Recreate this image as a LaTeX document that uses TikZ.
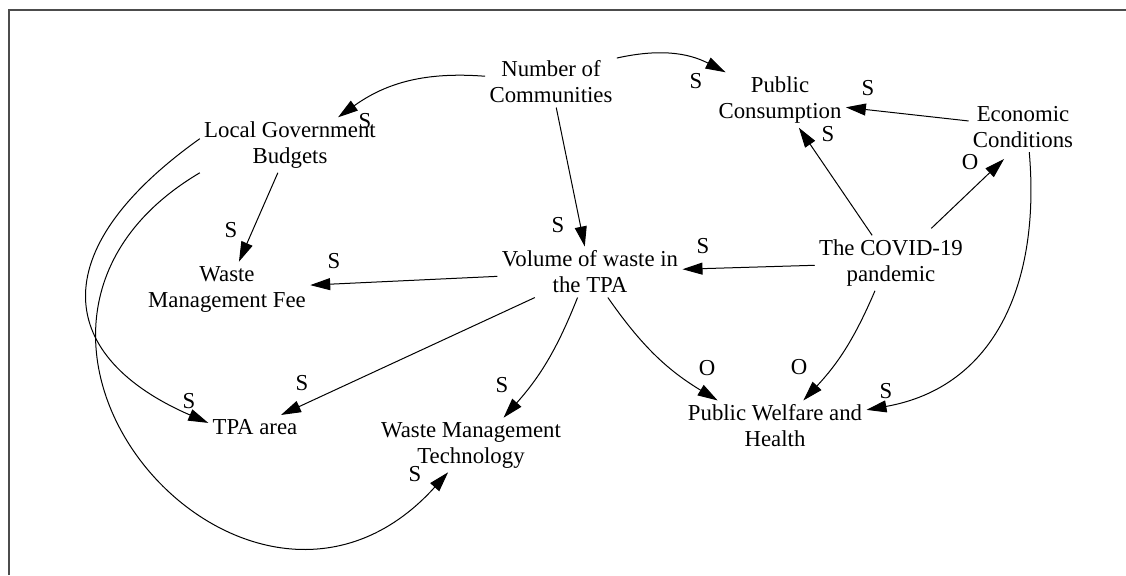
\documentclass[tikz,border=0pt]{standalone}
\usepackage{fontspec}
\setmainfont{Liberation Serif}
\usetikzlibrary{arrows.meta}

\begin{document}
\begin{tikzpicture}[x=0.5pt, y=0.5pt, font=\fontsize{11.4}{13}\selectfont,
    var/.style={align=center, inner sep=2pt},
    link/.style={-{Triangle[length=10pt, width=6pt]}, line width=0.5pt},
    pol/.style={inner sep=0pt}]
    \useasboundingbox (0,0) rectangle (1126,-575);
    % Frame
    \draw[line width=1pt, black!70] (8.5,-575) -- (8.5,-9.5) -- (1126,-9.5);

    % Variables
    \node[var] (ncom) at (551,-82) {Number of\\Communities};
    \node[var] (pcon) at (780,-100) {Public\\Consumption};
    \node[var] (econ) at (1023,-127) {Economic\\Conditions};
    \node[var] (lgb) at (290,-145) {Local Government\\Budgets};
    \node[var] (wmf) at (227,-289) {Waste\\Management Fee};
    \node[var] (vol) at (590,-272) {Volume of waste in\\the TPA};
    \node[var] (covid) at (891,-263) {The COVID-19\\pandemic};
    \node[var] (tpa) at (255,-427) {TPA area};
    \node[var] (wmt) at (471,-445) {Waste Management\\Technology};
    \node[var] (pwh) at (775,-426) {Public Welfare and\\Health};

    % Links
    \draw[link] (ncom.175) to[bend right=20] (lgb.30);
    \draw[link] (ncom.20) to[bend left=20] (pcon.153);
    \draw[link] (econ) -- (pcon);
    \draw[link] (covid) -- (pcon);
    \draw[link, shorten <=5pt, shorten >=5pt] (covid.40) -- (econ.-115);
    \draw[link] (econ.-76) to[out=-85, in=10, looseness=1.1] (pwh.10);
    \draw[link] (covid.-120) to[bend left=10] (pwh.42);
    \draw[link] (covid) -- (vol);
    \draw[link] (ncom) -- (vol);
    \draw[link] (lgb) -- (wmf);
    \draw[link] (vol) -- (wmf);
    \draw[link] (vol) -- (tpa);
    \draw[link] (vol.-116) to[bend left=10] (wmt.40);
    \draw[link] (vol.-55) to[bend right=12] (pwh.156);
    \draw[link] (lgb.176) .. controls +(-160,-114) and +(-150,65) .. (tpa.175);
    \draw[link] (lgb.south west) .. controls +(-270,-160) and +(-200,-222) .. (wmt.-130);

    % Polarities
    \node[pol] (ncomlgb) at (365,-121) {S};
    \node[pol] (ncompcon) at (696,-81) {S};
    \node[pol] (econpcon) at (868,-88) {S};
    \node[pol] (covidpcon) at (828,-134) {S};
    \node[pol] (covidecon) at (970,-162) {O};
    \node[pol] (econpwh) at (886,-391) {S};
    \node[pol] (covidpwh) at (799,-367) {O};
    \node[pol] (covidvol) at (703,-246) {S};
    \node[pol] (ncomvol) at (558,-225) {S};
    \node[pol] (lgbwmf) at (231,-230) {S};
    \node[pol] (volwmf) at (334,-261) {S};
    \node[pol] (voltpa) at (302,-383) {S};
    \node[pol] (volwmt) at (502,-385) {S};
    \node[pol] (volpwh) at (707,-368) {O};
    \node[pol] (lgbtpa) at (189,-401) {S};
    \node[pol] (lgbwmt) at (415,-474) {S};
\end{tikzpicture}
\end{document}
